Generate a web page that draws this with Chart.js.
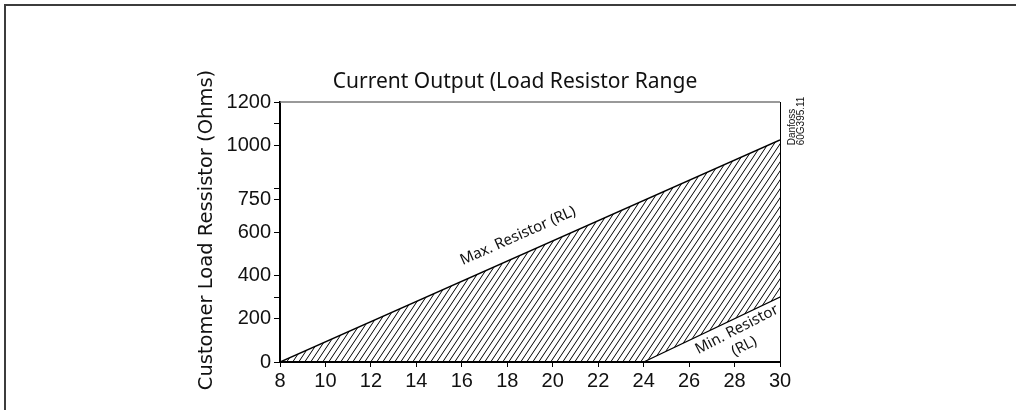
<!DOCTYPE html>
<html>
<head>
<meta charset="utf-8">
<script src="https://cdn.jsdelivr.net/npm/chart.js@4"></script>
<style>
  body { margin: 0; background: #fff; }
  #wrap { position: relative; width: 1016px; height: 410px; overflow: hidden; }
  #frame { position: absolute; left: 4px; top: 4px; right: -10px; bottom: -10px;
           border-left: 2px solid #3c3c3c; border-top: 2px solid #3c3c3c; }
  #canvas { position: absolute; left: 0; top: 0; }
</style>
</head>
<body>
<div id="wrap">
  <div id="frame"></div>
  <canvas id="canvas" width="1016" height="410"></canvas>
</div>
<script>
// current (mA) vs resistor (Ohms)
const maxCurrent = [8, 30];
const maxResistor = [0, 1025];
const minCurrent = [8, 24, 30];
const minResistor = [0, 0, 300];

const xTicks = [8, 10, 12, 14, 16, 18, 20, 22, 24, 26, 28, 30];
const yLabelTicks = [0, 200, 400, 600, 750, 1000, 1200];
const yMinorTicks = [300, 800, 1100];

const titleText = "Current Output (Load Resistor Range";
const yTitle = "Customer Load Ressistor (Ohms)";
const stamp = ["Danfoss", "60G395.11"];

const canvas = document.querySelector("#canvas");

function makeHatch() {
  const w = 6, h = 9;
  const c = document.createElement("canvas");
  c.width = w;
  c.height = h;
  const g = c.getContext("2d");
  g.strokeStyle = "#000";
  g.lineWidth = 1;
  g.beginPath();
  g.moveTo(-w, h); g.lineTo(0, 0);
  g.moveTo(0, h); g.lineTo(w, 0);
  g.moveTo(w, h); g.lineTo(2 * w, 0);
  g.stroke();
  return c.getContext("2d").createPattern(c, "repeat");
}

const toPts = (xs, ys) => xs.map((x, i) => ({ x: x, y: ys[i] }));

const textPlugin = {
  id: "texts",
  afterDraw(chart) {
    const { ctx, chartArea: a } = chart;
    const xs = chart.scales.x, ys = chart.scales.y;
    ctx.save();

    // frame lines at top and right
    ctx.strokeStyle = "#777";
    ctx.lineWidth = 1.5;
    ctx.beginPath();
    ctx.moveTo(a.left, a.top);
    ctx.lineTo(a.right, a.top);
    ctx.stroke();
    ctx.strokeStyle = "#000";
    ctx.lineWidth = 1;
    ctx.beginPath();
    ctx.moveTo(a.right + 0.5, a.top);
    ctx.lineTo(a.right + 0.5, a.bottom);
    ctx.stroke();

    ctx.fillStyle = "#111";
    // title
    ctx.font = "21px 'Noto Sans'";
    ctx.textAlign = "center";
    ctx.textBaseline = "alphabetic";
    ctx.fillText(titleText, (a.left + a.right) / 2 - 15, a.top - 14);

    // y title
    ctx.save();
    ctx.translate(a.left - 73, (a.top + a.bottom) / 2 - 2);
    ctx.rotate(-Math.PI / 2);
    ctx.font = "19.5px 'DejaVu Sans'";
    ctx.textBaseline = "middle";
    ctx.fillText(yTitle, 0, 0);
    ctx.restore();

    // line labels
    const ang = (xa, ya) => {
      const n = xa.length;
      const dx = xs.getPixelForValue(xa[n - 1]) - xs.getPixelForValue(xa[n - 2]);
      const dy = ys.getPixelForValue(ya[n - 1]) - ys.getPixelForValue(ya[n - 2]);
      return Math.atan2(dy, dx);
    };
    const label = (txt, x, y, rot, font) => {
      ctx.save();
      ctx.translate(xs.getPixelForValue(x), ys.getPixelForValue(y));
      ctx.rotate(rot);
      ctx.font = font;
      ctx.textAlign = "center";
      ctx.textBaseline = "middle";
      ctx.fillText(txt, 0, 0);
      ctx.restore();
    };
    const aMax = ang(maxCurrent, maxResistor);
    const aMin = ang(minCurrent, minResistor);
    label("Max. Resistor (RL)", 18.47, 582, aMax, "15px 'Noto Sans'");
    label("Min. Resistor", 28.1, 150, aMin - 0.03, "15px 'Noto Sans'");
    label("(RL)", 28.42, 72, aMin - 0.03, "15px 'Noto Sans'");

    // stamp
    ctx.save();
    ctx.translate(a.right, ys.getPixelForValue(1000));
    ctx.rotate(-Math.PI / 2);
    ctx.font = "10px 'Liberation Sans'";
    ctx.textAlign = "left";
    ctx.textBaseline = "alphabetic";
    ctx.fillText(stamp[0], 0, 15);
    ctx.fillText(stamp[1], 0, 24);
    ctx.restore();

    ctx.restore();
  }
};

new Chart(canvas.getContext("2d"), {
  type: "line",
  data: {
    datasets: [
      {
        label: "Max. Resistor (RL)",
        data: toPts(maxCurrent, maxResistor),
        borderColor: "#000",
        borderWidth: 1.5,
        backgroundColor: makeHatch(),
        fill: "+1",
        pointRadius: 0,
        tension: 0,
      },
      {
        label: "Min. Resistor (RL)",
        data: toPts(minCurrent, minResistor),
        borderColor: "#000",
        borderWidth: 1.2,
        fill: false,
        pointRadius: 0,
        tension: 0,
      },
    ],
  },
  options: {
    responsive: false,
    animation: false,
    layout: { padding: { left: 180, right: 236, top: 102, bottom: 0 } },
    plugins: { legend: { display: false }, tooltip: { enabled: false } },
    scales: {
      x: {
        type: "linear",
        min: 8,
        max: 30,
        afterBuildTicks: (s) => { s.ticks = xTicks.map((v) => ({ value: v })); },
        afterFit: (s) => { s.height = 48; },
        ticks: {
          color: "#111",
          padding: 2,
          maxRotation: 0,
          autoSkip: false,
          font: { family: "'Liberation Sans'", size: 20 },
        },
        grid: { drawOnChartArea: false, drawTicks: true, tickLength: 5, color: "#000" },
        border: { color: "#000", width: 2 },
      },
      y: {
        min: 0,
        max: 1200,
        afterBuildTicks: (s) => {
          s.ticks = yLabelTicks.concat(yMinorTicks).sort((p, q) => p - q).map((v) => ({ value: v }));
        },
        afterFit: (s) => { s.width = 100; },
        ticks: {
          color: "#111",
          padding: 3,
          autoSkip: false,
          font: { family: "'Liberation Sans'", size: 20 },
          callback: (v) => (yLabelTicks.includes(v) ? String(v) : ""),
        },
        grid: { drawOnChartArea: false, drawTicks: true, tickLength: 6, color: "#000" },
        border: { color: "#000", width: 2 },
      },
    },
  },
  plugins: [textPlugin],
});
</script>
</body>
</html>
